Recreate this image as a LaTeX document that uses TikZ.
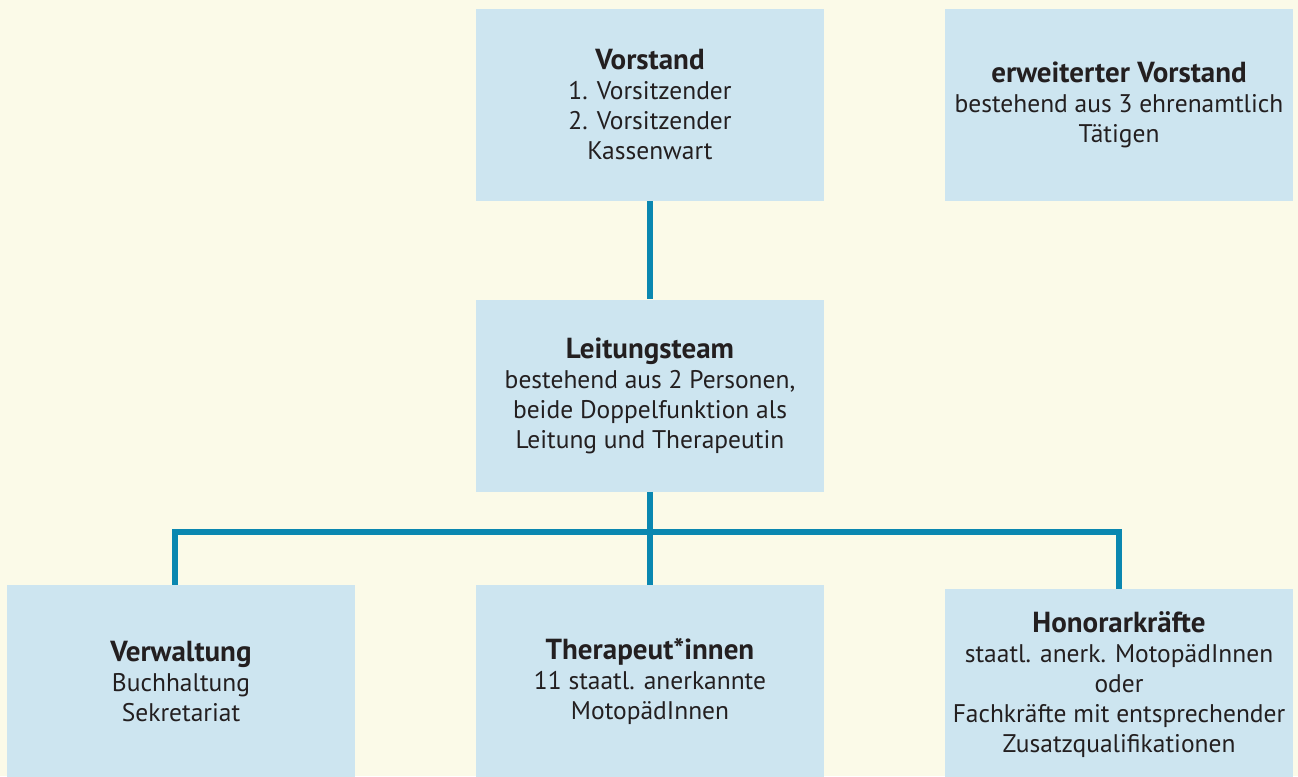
\documentclass[tikz,border=0pt]{standalone}
\usepackage{fontspec}
\setmainfont{PT Sans}
\usepackage{tikz}
\usetikzlibrary{positioning}

\definecolor{bgcream}{HTML}{FBFAE8}
\definecolor{boxblue}{HTML}{CDE5F0}
\definecolor{linkblue}{HTML}{0A87B0}
\definecolor{textdark}{HTML}{231F20}

\newcommand{\boxtitle}[1]{{\fontsize{16.5}{17.07}\selectfont\bfseries #1}}

\begin{document}
\begin{tikzpicture}
		\tikzstyle{Unit}	= [rectangle, fill=boxblue, text=textdark, minimum width=6.96cm, minimum height=3.84cm, inner sep=0pt, align=center, font=\fontsize{14.5}{17.07}\selectfont]
		\tikzstyle{Link}	= [line width=3.2pt, linkblue]
		
		\useasboundingbox (0,0) rectangle (25.96,15.52);
		\fill [bgcream] (0,0) rectangle (25.96,15.52);
		
		\node (vorstand) at (13.0,13.42) [Unit] {\boxtitle{Vorstand}\\1. Vorsitzender\\2. Vorsitzender\\Kassenwart};
		\node (erweitert) at (22.38,13.42) [Unit] {\boxtitle{erweiterter Vorstand}\\bestehend aus 3 ehrenamtlich\\Tätigen};
		\node (leitung) at (13.0,7.61) [Unit] {\boxtitle{Leitungsteam}\\bestehend aus 2 Personen,\\beide Doppelfunktion als\\Leitung und Therapeutin};
		\node (verwaltung) at (3.62,1.90) [Unit] {\boxtitle{Verwaltung}\\Buchhaltung\\Sekretariat};
		\node (therapeuten) at (13.0,1.90) [Unit] {\boxtitle{Therapeut*innen}\\11 staatl. anerkannte\\MotopädInnen};
		\node (honorar) at (22.38,1.82) [Unit] {\boxtitle{Honorarkräfte}\\staatl. anerk. MotopädInnen\\oder\\Fachkräfte mit entsprechender\\Zusatzqualifikationen};
		\coordinate (bus) at (13.0,4.88);
		
		\draw [-] (vorstand) to (leitung) [Link];
		\draw [-] (leitung) to (therapeuten) [Link];
		\draw [-] ([xshift=-0.12cm]verwaltung.north) |- (bus) -| (honorar.north) [Link];
	\end{tikzpicture}
\end{document}
